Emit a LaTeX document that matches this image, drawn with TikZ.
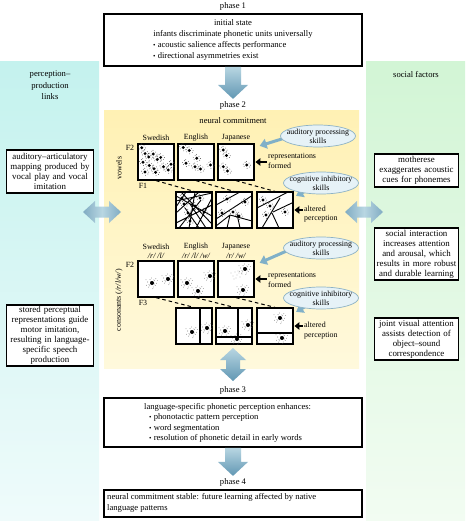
\documentclass[tikz,border=0pt]{standalone}
\usepackage{fontspec}
\setmainfont{Liberation Serif}
\usetikzlibrary{shapes.geometric,calc,arrows.meta}
\pgfdeclarelayer{bgzero}
\pgfdeclarelayer{bgone}
\pgfsetlayers{bgzero,bgone,main}
\definecolor{arrtop}{HTML}{B8D6E2}
\definecolor{arrbot}{HTML}{6197B3}
\definecolor{cyantop}{HTML}{C4F2EE}
\definecolor{cyanbot}{HTML}{EFFBFB}
\definecolor{greentop}{HTML}{D2F5D5}
\definecolor{greenbot}{HTML}{F2FCF2}
\definecolor{yeltop}{HTML}{FFF1B4}
\definecolor{yelbot}{HTML}{FFF9DC}
\definecolor{skillfill}{HTML}{E6F2F7}
\definecolor{skilldraw}{HTML}{8DB2C5}
\definecolor{skillarr}{HTML}{80B0C8}
\newcommand\blkdown[2]{%
  \shade[top color=arrtop,bottom color=arrbot]
   ($(#1)+(-8,0)$) -- ($(#1)+(8,0)$) -- ($(#2)+(8,-14)$) -- ($(#2)+(15,-14)$) -- (#2)
   -- ($(#2)+(-15,-14)$) -- ($(#2)+(-8,-14)$) -- cycle;}
\newcommand\dblh[3]{%
  \shade[left color=arrbot!80,right color=arrbot!80,middle color=arrtop]
   (#1,#3) -- (#1+12,#3-11) -- (#1+12,#3-5.5) -- (#2-12,#3-5.5) -- (#2-12,#3-11) -- (#2,#3)
   -- (#2-12,#3+11) -- (#2-12,#3+5.5) -- (#1+12,#3+5.5) -- (#1+12,#3+11) -- cycle;}
\newcommand\dblv[3]{%
  \shade[top color=arrtop,bottom color=arrbot]
   (#1,#2) -- (#1+13,#2+12) -- (#1+7,#2+12) -- (#1+7,#3-12) -- (#1+13,#3-12) -- (#1,#3)
   -- (#1-13,#3-12) -- (#1-7,#3-12) -- (#1-7,#2+12) -- (#1-13,#2+12) -- cycle;}
\newcommand\vclu[2]{\fill (#1,#2) circle[radius=1.6];
  \foreach \dx/\dy in {-2.6/1.3,2.3/-1.9,2.9/2,-1.6/-2.7,3.7/0.2,-3.5/-0.8,0.4/3.3,-0.3/-3.6}
    {\fill[black!70] ({#1+(\dx)},{#2+(\dy)}) circle[radius=0.45];}}
\newcommand\cclu[2]{\fill (#1,#2) circle[radius=2];
  \foreach \dx/\dy in {-3/1.5,2.5/-2.2,3.2/2.4,-2/-3.4,4.5/0.3,-4.4/-1,1.2/4,-0.5/-5,5.3/-2.6,-5.5/2.2,-3.6/4.1,3.8/-4.3,0.8/5.6,-6/-3.2,2.2/0.9,-1.6/-1.2,-2.4/2.8,1.8/-3.1}
    {\fill[black!60] ({#1+(\dx)},{#2+(\dy)}) circle[radius=0.4];}}
\begin{document}
\begin{tikzpicture}[x=1pt,y=-1pt,
  every node/.style={font=\fontsize{8.6}{10.7}\selectfont},
  lab/.style={inner sep=2pt},
  phasebox/.style={draw,line width=1.6pt,fill=white,rectangle,minimum width=258pt,inner sep=0pt},
  sidebox/.style={draw,line width=1.6pt,fill=white,align=center,inner sep=1.5pt,font=\fontsize{8.9}{10}\selectfont},
  plotbox/.style={draw,line width=1.3pt,fill=white,minimum size=36pt,inner sep=0pt},
  smalltxt/.style={font=\fontsize{7.9}{9.4}\selectfont,inner sep=1pt},
  skill/.style={ellipse,draw=skilldraw,fill=skillfill,line width=0.7pt,align=center,inner xsep=-5pt,inner ysep=-3pt,minimum width=75pt,minimum height=22pt,font=\fontsize{7.9}{8.8}\selectfont},
  skillarrow/.style={draw=skillarr,line width=3pt,-{Triangle[length=7pt,width=10pt]}},
  blkarrow/.style={draw=black,line width=1.6pt,-{Triangle[length=5pt,width=7.5pt]},shorten >=0.8pt},
  fdash/.style={dashed,line width=1pt,dash pattern=on 3.5pt off 3pt},
  part/.style={line width=0.9pt},
]
\useasboundingbox (0,0) rectangle (465,521);
\begin{pgfonlayer}{bgzero}
\fill[white] (0,0) rectangle (465,521);
\shade[top color=cyantop,bottom color=cyanbot] (0,62) rectangle (99,521);
\shade[top color=greentop,bottom color=greenbot] (366,62) rectangle (465,521);
\shade[top color=yeltop,bottom color=yelbot] (104,111) rectangle (359,368);
\end{pgfonlayer}

% ---------- phase 1
\node[lab] (ph1) at (233,6) {phase 1};
\node[phasebox,minimum height=52pt] (p1) at (233,40) {};
\node[lab,inner sep=0pt] (p1a) at (233,23) {initial state};
\node[lab,inner sep=0pt] (p1b) at (233,34.5) {infants discriminate phonetic units universally};
\node[lab,inner sep=0pt,anchor=west] (p1c) at (153,45.5) {{\scriptsize\textbullet}\ acoustic salience affects performance};
\node[lab,inner sep=0pt,anchor=west] (p1d) at (153,56) {{\scriptsize\textbullet}\ directional asymmetries exist};

% ---------- phase 2
\node[lab] (ph2) at (233,105) {phase 2};
\blkdown{p1.south}{ph2.north}
\node[lab] (nc) at (233,121) {neural commitment};

% side panels
\node[align=center,font=\fontsize{8.6}{11.5}\selectfont] (plinks) at (50,85.5) {perception--\\production\\links};
\node (sfac) at (416,75) {social factors};
\node[sidebox,text width=84pt,minimum height=43pt] (lb1) at (50,171.5) {auditory--articulatory\\mapping produced by\\vocal play and vocal\\imitation};
\node[sidebox,text width=84pt,minimum height=61pt] (lb2) at (50,335.5) {stored perceptual\\representations guide\\motor imitation,\\resulting in language-\\specific speech\\production};
\node[sidebox,text width=81pt,minimum height=33pt] (rb1) at (416.5,170.5) {motherese\\exaggerates acoustic\\cues for phonemes};
\node[sidebox,text width=81pt,minimum height=52pt] (rb2) at (416.5,254) {social interaction\\increases attention\\and arousal, which\\results in more robust\\and durable learning};
\node[sidebox,text width=81pt,minimum height=42pt] (rb3) at (416.5,339) {joint visual attention\\assists detection of\\object--sound\\correspondence};
\dblh{83}{121}{212}
\dblh{345}{383}{212}

% ---------- vowels
\node[smalltxt] (sw1) at (156,138) {Swedish};
\node[smalltxt] (en1) at (196,138) {English};
\node[smalltxt] (ja1) at (236,138) {Japanese};
\node[smalltxt] (f2a) at (130,148) {F2};
\node[smalltxt] (f1a) at (143,185.5) {F1};
\node[smalltxt,rotate=90] (vow) at (119,168) {vowels};
\node[plotbox] (vt1) at (156,162) {};
\node[plotbox] (vt2) at (196,162) {};
\node[plotbox] (vt3) at (236,162) {};
\node[plotbox] (vb1) at (194,210) {};
\node[plotbox] (vb2) at (234,210) {};
\node[plotbox] (vb3) at (275,210) {};
\draw[fdash] (vt1.south) -- (vb1.north);
\draw[fdash] (vt2.south) -- (vb2.north);
\draw[fdash] (vt3.south) -- (vb3.north);
\foreach \px/\py in {141.7/147.7,145/153.6,148.8/157,153.3/154,143/162.3,149.3/165.5,154/168.8,160.7/157.4,157.3/159.5,163.5/166.7,171/164.3,145/172,155.6/172.4,168.3/170}{\vclu{\px}{\py}}
\foreach \px/\py in {183.3/147.5,189.3/150.5,186/163.3,195/166.7,200.5/169,196.7/158.3,210.5/165}{\vclu{\px}{\py}}
\foreach \px/\py in {223.3/150,226.5/155.5,223.3/166.7,227.5/171,246.7/165}{\vclu{\px}{\py}}
\begin{scope}
\clip (vb1.north west) rectangle (vb1.south east);
\draw[part] (176,201)--(212,193) (176,213)--(199,192) (181,192)--(212,224) (176,223)--(212,205)
  (189,228)--(195,192) (199,228)--(185,208) (176,196)--(212,216) (206,228)--(190,204)
  (179,228)--(201,200) (186,192)--(176,207) (212,198)--(196,228);
\end{scope}
\foreach \px/\py in {182/198,188/213,195/206,204/212,190/221,200/198,184/204}{\vclu{\px}{\py}}
\begin{scope}
\clip (vb2.north west) rectangle (vb2.south east);
\draw[part] (216,205)--(240,192) (216,219)--(253,195) (227,228)--(230,215) (240,228)--(237,214)
  (230,215)--(252,221) (216,226)--(230,215);
\end{scope}
\foreach \px/\py in {227/199,245/202,233/212,239/216,222/213}{\vclu{\px}{\py}}
\begin{scope}
\clip (vb3.north west) rectangle (vb3.south east);
\draw[part] (257,208)--(288,192) (262,228)--(280,198) (273,212)--(294,202) (272,213)--(279,228);
\end{scope}
\foreach \px/\py in {263/200,266/215,285/212,270/206}{\vclu{\px}{\py}}

\node[skill] (aud1) at (318,136) {auditory processing\\skills};
\node[skill] (cog1) at (321,183) {cognitive inhibitory\\skills};
\node[smalltxt,anchor=west,align=left] (rf1) at (267,161) {representations\\formed};
\node[smalltxt,anchor=west,align=left] (ap1) at (303,214) {altered\\perception};
\draw[blkarrow] (ap1.west |- vb3.east) -- (vb3.east);
\draw[blkarrow] (rf1.west |- vt3.east) -- (vt3.east);

% ---------- consonants
\node[smalltxt] (sw2) at (156,246.5) {Swedish};
\node[smalltxt] (sw2p) at (156,255.5) {\itshape /r/ /l/};
\node[smalltxt] (en2) at (196,246.5) {English};
\node[smalltxt] (en2p) at (196,255.5) {\itshape /r/ /l/ /w/};
\node[smalltxt] (ja2) at (236,246.5) {Japanese};
\node[smalltxt] (ja2p) at (236,255.5) {\itshape /r/ /w/};
\node[smalltxt] (f2b) at (130,265) {F2};
\node[smalltxt] (f3b) at (143,302.5) {F3};
\node[smalltxt,rotate=90] (cons) at (119,300) {consonants (\textit{/r/l/w/})};
\node[plotbox] (ct1) at (156,279) {};
\node[plotbox] (ct2) at (196,279) {};
\node[plotbox] (ct3) at (236,279) {};
\node[plotbox] (cb1) at (194,326) {};
\node[plotbox] (cb2) at (234,326) {};
\node[plotbox] (cb3) at (275,326) {};
\draw[fdash] (ct1.south) -- (cb1.north);
\draw[fdash] (ct2.south) -- (cb2.north);
\draw[fdash] (ct3.south) -- (cb3.north);
\foreach \px/\py in {152/283,168/279,187/283,198/291,210/276,245/269,243/290,192/332,207/328,225/331,248/325,237/339,280/318,282/338}{\cclu{\px}{\py}}
\foreach \dx/\dy in {-8/6,-10/3,-5/8,-12/7,-7/2,-3/5,-9/9,-14/4,-11/10,-6/4}{\fill[black!55] ({245+(\dx)},{269+(\dy)}) circle[radius=0.4];}
\draw[part,line width=1.1pt] (200,308) -- (200,344);
\draw[part,line width=1.1pt] (216,337) -- (252,337) (238,308) -- (238,337);
\draw[part,line width=1.1pt] (257,333) -- (293,333);

\node[skill] (aud2) at (321,248) {auditory processing\\skills};
\node[skill] (cog2) at (321,298) {cognitive inhibitory\\skills};
\node[smalltxt,anchor=west,align=left] (rf2) at (267,280) {representations\\formed};
\node[smalltxt,anchor=west,align=left] (ap2) at (303,330.5) {altered\\perception};
\draw[blkarrow] (rf2.west |- ct3.east) -- (ct3.east);
\draw[blkarrow] (ap2.west |- cb3.east) -- (cb3.east);

\begin{pgfonlayer}{bgone}
\draw[skillarrow] ($(aud1.west)+(8,1)$) -- ($(vt3.north east)+(5,2.5)$);
\draw[skillarrow] ($(cog1.center)+(-8,4)$) -- ($(vb3.north east)+(2.5,4.5)$);
\draw[skillarrow] ($(aud2.west)+(8,1)$) -- ($(ct3.north east)+(5,2.5)$);
\draw[skillarrow] ($(cog2.center)+(-8,4)$) -- ($(cb3.north east)+(2.5,4.5)$);
\end{pgfonlayer}

% ---------- phase 3
\node[lab] (ph3) at (233,390) {phase 3};
\dblv{233}{348}{381}
\node[phasebox,minimum height=49pt] (p3) at (233,422.5) {};
\node[anchor=west,align=left,inner sep=0pt,font=\fontsize{8.6}{10.4}\selectfont] (p3t) at (144,423) {language-specific phonetic perception enhances:\\
\hspace{5pt}{\scriptsize\textbullet}\ phonotactic pattern perception\\
\hspace{5pt}{\scriptsize\textbullet}\ word segmentation\\
\hspace{5pt}{\scriptsize\textbullet}\ resolution of phonetic detail in early words};

% ---------- phase 4
\node[lab] (ph4) at (233,482) {phase 4};
\blkdown{p3.south}{ph4.north}
\node[phasebox,minimum height=27pt] (p4) at (233,503.5) {};
\node[anchor=west,align=left,inner sep=0pt,font=\fontsize{8.6}{11.5}\selectfont] (p4t) at (107,503) {neural commitment stable: future learning affected by native\\language patterns};
\end{tikzpicture}
\end{document}
